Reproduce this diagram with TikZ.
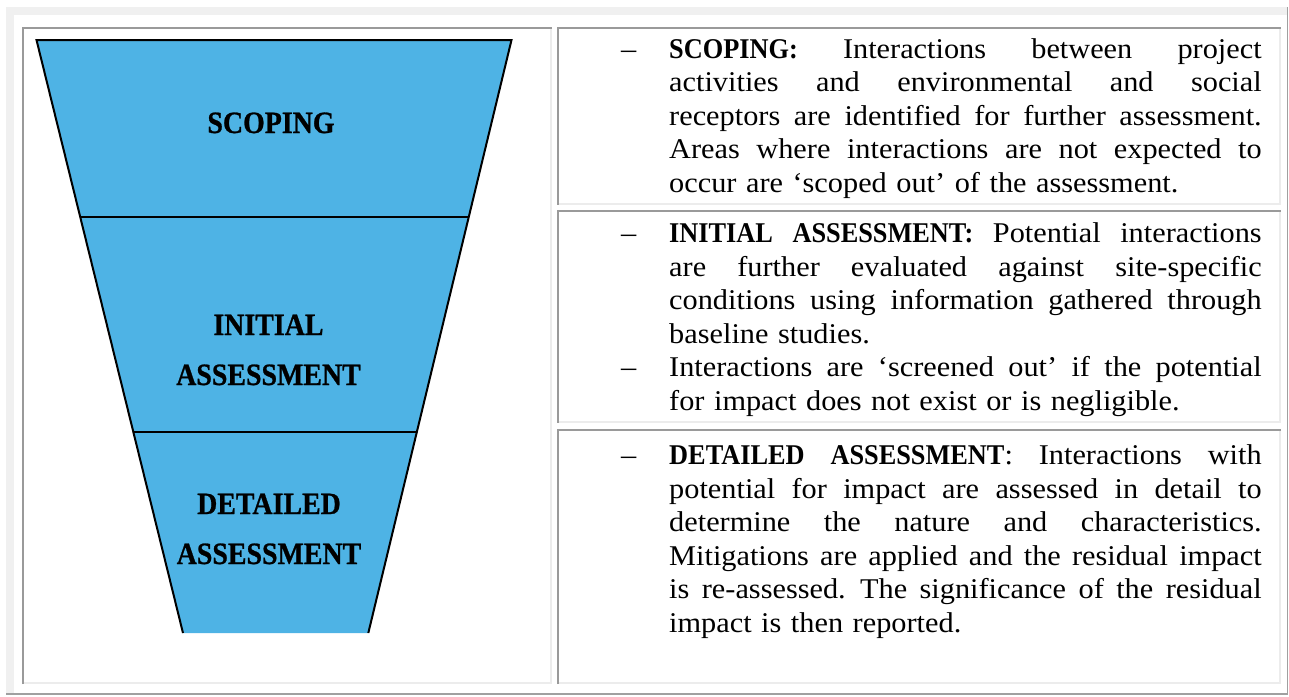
\documentclass[tikz,border=0pt]{standalone}
\usepackage{fontspec}
\setmainfont[FakeStretch=1.06]{Liberation Serif}
\newfontfamily\leadfont[FakeStretch=0.92]{Liberation Serif}
\newfontfamily\funnelfont[FakeStretch=0.9,FakeBold=0.8]{Liberation Serif}

\definecolor{funnelblue}{RGB}{78,179,229}
\definecolor{ruledark}{RGB}{154,154,154}
\definecolor{rulelight}{RGB}{236,236,236}
\definecolor{framelight}{RGB}{240,240,240}
\definecolor{framedark}{RGB}{160,160,160}

% one table cell with an inset border: dark top/left, light bottom/right
\newcommand\insetcell[4]{%
  \draw[lightrule] (#3-1,#2) -- (#3-1,#4-1) -- (#1,#4-1);
  \draw[darkrule] (#1+1,#4) -- (#1+1,#2+1) -- (#3,#2+1);
}

\tikzset{
  darkrule/.style={draw=ruledark, line width=2pt},
  lightrule/.style={draw=rulelight, line width=2pt},
  funnelpart/.style={fill=funnelblue, draw=none},
  funneledge/.style={draw=black, line width=2pt},
  stagelabel/.style={font=\funnelfont\bfseries\fontsize{31}{50}\selectfont,
    align=center, inner sep=0pt, anchor=base},
  celltext/.style={anchor=base west, inner sep=0pt, text width=592.5pt,
    align=left, font=\fontsize{28.6}{33.5}\selectfont},
}

% a justified line: interword spaces stretch to the full column width
\newcommand\fullline[1]{\leavevmode\hbox to 592.5pt{%
  \spaceskip=\fontdimen2\font plus 1fil minus \fontdimen4\font\relax #1}}
% list dash hanging to the left of the text column
\newcommand\bul{\llap{\textendash\hspace{33pt}}}
\newcommand\lead[1]{{\leadfont\bfseries #1}}

\begin{document}
\begin{tikzpicture}[x=1pt,y=-1pt]
\useasboundingbox (0,0) rectangle (1289,696);

% outer table frame (outset)
\fill[framelight] (6,7) rectangle (1288,15);
\fill[framelight] (6,7) rectangle (14,694);
\draw[framedark, line width=1.5pt] (1287.5,7) -- (1287.5,694) -- (6,694);

% cells
\insetcell{22}{27}{551.5}{684}
\insetcell{557}{27}{1280.5}{204.5}
\insetcell{557}{210}{1280.5}{422.7}
\insetcell{557}{429}{1280.5}{684}

% funnel corner points
\coordinate (t1) at (36.5,40);   \coordinate (t2) at (511.5,40);
\coordinate (a1) at (80.1,216.5); \coordinate (a2) at (468.9,216.5);
\coordinate (b1) at (133.2,431.5); \coordinate (b2) at (417.0,431.5);
\coordinate (c1) at (183.0,633);  \coordinate (c2) at (368.3,633);

\fill[funnelpart] (t1) -- (t2) -- (c2) -- (c1) -- cycle;
\draw[funneledge] (c1) -- (t1) -- (t2) -- (c2);
\draw[funneledge] (a1) -- (a2);
\draw[funneledge] (b1) -- (b2);

% stage labels (base anchor sits on the last line)
\node[stagelabel] (scoping) at (271,133) {SCOPING};
\node[stagelabel] (initial) at (268.5,385) {INITIAL\\ASSESSMENT};
\node[stagelabel] (detailed) at (269,564) {DETAILED\\ASSESSMENT};

% descriptions
\node[celltext] (scopetext) at (669,58) {%
  \fullline{\bul\lead{SCOPING:} Interactions between project}\\
  \fullline{activities and environmental and social}\\
  \fullline{receptors are identified for further assessment.}\\
  \fullline{Areas where interactions are not expected to}\\
  occur are ‘scoped out’ of the assessment.};

\node[celltext] (initialtext) at (669,242.5) {%
  \fullline{\bul\lead{INITIAL ASSESSMENT:} Potential interactions}\\
  \fullline{are further evaluated against site-specific}\\
  \fullline{conditions using information gathered through}\\
  baseline studies.\\
  \fullline{\bul Interactions are ‘screened out’ if the potential}\\
  for impact does not exist or is negligible.};

\node[celltext] (detailtext) at (669,464.5) {%
  \fullline{\bul\lead{DETAILED ASSESSMENT}: Interactions with}\\
  \fullline{potential for impact are assessed in detail to}\\
  \fullline{determine the nature and characteristics.}\\
  \fullline{Mitigations are applied and the residual impact}\\
  \fullline{is re-assessed. The significance of the residual}\\
  impact is then reported.};
\end{tikzpicture}
\end{document}
